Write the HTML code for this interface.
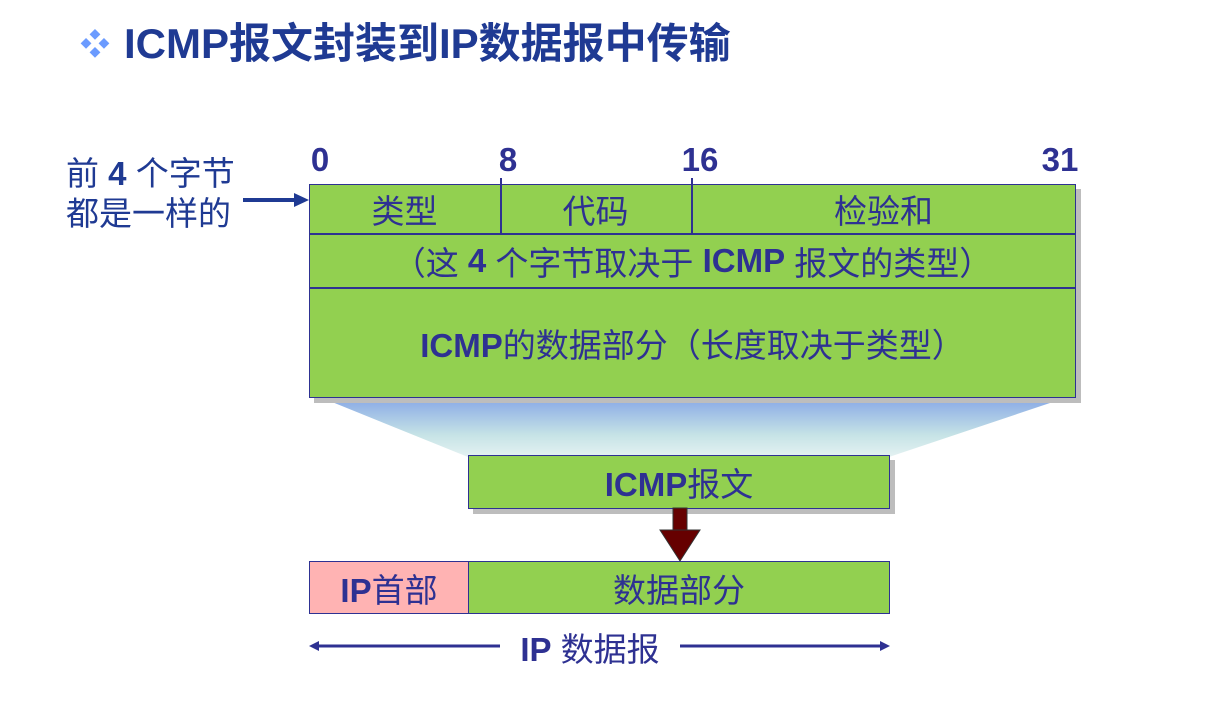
<!DOCTYPE html>
<html><head><meta charset="utf-8"><style>
body{margin:0;width:1223px;height:708px;background:#fff;position:relative;overflow:hidden;font-family:"Liberation Sans","Noto Sans CJK SC",sans-serif;color:#2E3192}
.a{position:absolute}
.box{position:absolute;background:#92D050;border:1.5px solid #2E3192;box-sizing:border-box;box-shadow:5px 5px 0 #bdbdbd;display:flex;align-items:center;justify-content:center;font-size:33px}
.t{position:absolute;display:flex;align-items:center;justify-content:center;font-size:33px;white-space:nowrap}
b{font-weight:bold}
</style></head><body>
<div class="a" style="left:80px;top:20px;font-size:30px;color:#6B9BFF">❖</div>
<div class="a" style="left:124px;top:10px;font-size:42px;font-weight:bold;color:#1F3A93;white-space:nowrap">ICMP报文封装到IP数据报中传输</div>

<div class="a" style="left:66px;top:154px;font-size:33px;line-height:40px;color:#1F3A93;white-space:nowrap">前 <b>4</b> 个字节<br>都是一样的</div>
<svg class="a" style="left:0;top:0" width="1223" height="708">
<defs><linearGradient id="g" x1="0" y1="0" x2="0" y2="1"><stop offset="0" stop-color="#8FAFE6"/><stop offset="0.6" stop-color="#C6E3E6"/><stop offset="1" stop-color="#E4F2F2"/></linearGradient></defs>
<polygon points="332,402 1053,402 889,457 468,457" fill="url(#g)"/>
<line x1="243" y1="200" x2="296" y2="200" stroke="#1F3A93" stroke-width="4"/>
<polygon points="294,193 309,200 294,207" fill="#1F3A93"/>
</svg>
<div class="t" style="left:290px;top:140px;width:60px;height:40px;font-weight:bold;font-size:33px">0</div>
<div class="t" style="left:478px;top:140px;width:60px;height:40px;font-weight:bold;font-size:33px">8</div>
<div class="t" style="left:670px;top:140px;width:60px;height:40px;font-weight:bold;font-size:33px">16</div>
<div class="t" style="left:1030px;top:140px;width:60px;height:40px;font-weight:bold;font-size:33px">31</div>

<div class="box" style="left:309px;top:184px;width:767px;height:214px"></div>
<div class="a" style="left:309px;top:233px;width:767px;height:1.5px;background:#2E3192"></div>
<div class="a" style="left:309px;top:287px;width:767px;height:1.5px;background:#2E3192"></div>
<div class="a" style="left:500px;top:178px;width:1.5px;height:56px;background:#2E3192"></div>
<div class="a" style="left:691px;top:178px;width:1.5px;height:56px;background:#2E3192"></div>
<div class="t" style="left:309px;top:184px;width:191px;height:50px">类型</div>
<div class="t" style="left:500px;top:184px;width:191px;height:50px">代码</div>
<div class="t" style="left:691px;top:184px;width:385px;height:50px">检验和</div>
<div class="t" style="left:309px;top:234px;width:767px;height:53px;white-space:pre">（这 <b>4</b> 个字节取决于 <b>ICMP</b> 报文的类型）</div>
<div class="t" style="left:309px;top:288px;width:767px;height:110px"><span><b>ICMP</b>的数据部分（长度取决于类型）</span></div>

<div class="box" style="left:468px;top:455px;width:422px;height:54px"><span><b>ICMP</b>报文</span></div>
<svg class="a" style="left:0;top:0" width="1223" height="708">
<rect x="673" y="508" width="14" height="23" fill="#660000" stroke="#333" stroke-width="1"/>
<polygon points="660,530 700,530 680,561" fill="#660000" stroke="#333" stroke-width="1"/>
</svg>
<div class="a" style="left:309px;top:561px;width:581px;height:53px;border:1.5px solid #2E3192;box-sizing:border-box;background:#92D050"></div>
<div class="t" style="left:309px;top:561px;width:160px;height:53px;background:#FFB3B3;border:1.5px solid #2E3192;box-sizing:border-box"><span><b>IP</b>首部</span></div>
<div class="t" style="left:468px;top:561px;width:422px;height:53px">数据部分</div>
<svg class="a" style="left:0;top:0" width="1223" height="708">
<line x1="316" y1="646" x2="500" y2="646" stroke="#2E3192" stroke-width="3"/>
<polygon points="309,646 319,641 319,651" fill="#2E3192"/>
<line x1="680" y1="646" x2="882" y2="646" stroke="#2E3192" stroke-width="3"/>
<polygon points="890,646 880,641 880,651" fill="#2E3192"/>
</svg>
<div class="t" style="left:500px;top:626px;width:180px;height:42px"><span><b>IP</b> 数据报</span></div>
</body></html>
